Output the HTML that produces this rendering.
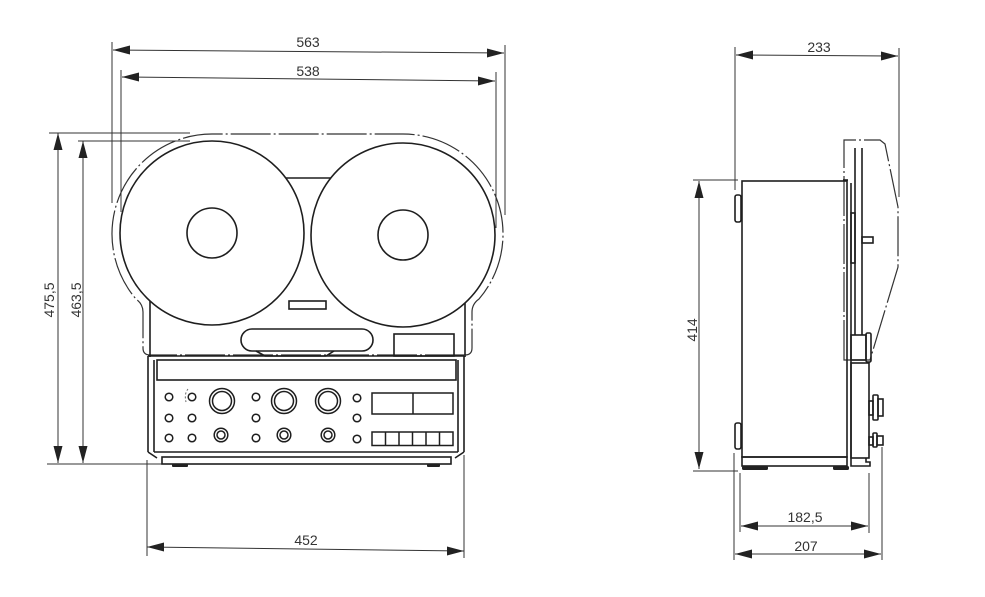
<!DOCTYPE html>
<html>
<head>
<meta charset="utf-8">
<style>
html,body{margin:0;padding:0;background:#fff;}
svg{display:block;}
text{font-family:"Liberation Sans",Arial,sans-serif;font-size:14px;fill:#333;}
</style>
</head>
<body>
<svg width="985" height="597" viewBox="0 0 985 597" xmlns="http://www.w3.org/2000/svg">
<rect width="985" height="597" fill="#fff"/>

<!-- ================= DIMENSIONS (front) ================= -->
<g stroke="#333" stroke-width="1" fill="none">
  <line x1="113" y1="50" x2="504" y2="53"/>
  <line x1="112" y1="42" x2="112" y2="203"/>
  <line x1="505" y1="45" x2="505" y2="215"/>
  <line x1="122" y1="77" x2="495" y2="81"/>
  <line x1="121" y1="70" x2="121" y2="212"/>
  <line x1="496" y1="72" x2="496" y2="228"/>
  <line x1="58" y1="133" x2="58" y2="463"/>
  <line x1="49" y1="133" x2="190" y2="133"/>
  <line x1="47" y1="464" x2="170" y2="464"/>
  <line x1="83" y1="141" x2="83" y2="463"/>
  <line x1="78" y1="141" x2="190" y2="141"/>
  <line x1="147" y1="547" x2="464" y2="551"/>
  <line x1="147" y1="460" x2="147" y2="556"/>
  <line x1="464" y1="455" x2="464" y2="558"/>
</g>
<g fill="#222" stroke="none">
  <polygon points="113,50 130,45.5 130,54.5"/>
  <polygon points="504,53 487,48.5 487,57.5"/>
  <polygon points="122,77 139,72.5 139,81.5"/>
  <polygon points="495,81 478,76.5 478,85.5"/>
  <polygon points="58,133 53.5,150 62.5,150"/>
  <polygon points="58,463 53.5,446 62.5,446"/>
  <polygon points="83,141 78.5,158 87.5,158"/>
  <polygon points="83,463 78.5,446 87.5,446"/>
  <polygon points="147,547 164,542.5 164,551.5"/>
  <polygon points="464,551 447,546.5 447,555.5"/>
</g>
<text x="308" y="47" text-anchor="middle">563</text>
<text x="308" y="76" text-anchor="middle">538</text>
<text x="306" y="545" text-anchor="middle">452</text>
<text transform="translate(54,300) rotate(-90)" text-anchor="middle">475,5</text>
<text transform="translate(81,300) rotate(-90)" text-anchor="middle">463,5</text>

<!-- ================= FRONT VIEW ================= -->
<path d="M465,355 L150,355 Q143,355 143,348 L143,312 Q143,304 136,299 A100,100 0 0 1 212,134 L403,134 A100,100 0 0 1 479,299 Q472,304 472,312 L472,348 Q472,355 465,355 Z"
      fill="none" stroke="#333" stroke-width="1.2" stroke-dasharray="40 3 2 3"/>

<g stroke="#1e1e1e" stroke-width="1.6" fill="none">
  <circle cx="212" cy="233" r="92"/>
  <circle cx="212" cy="233" r="25"/>
  <circle cx="403" cy="235" r="92"/>
  <circle cx="403" cy="235" r="25"/>
  <line x1="286" y1="178" x2="331" y2="178"/>
  <line x1="150" y1="301" x2="150" y2="357"/>
  <line x1="465" y1="303" x2="465" y2="357"/>
  <rect x="289" y="301" width="37" height="8"/>
  <rect x="241" y="329" width="132" height="22" rx="11"/>
  <path d="M256,351 L265,356 L326,356 L334,351"/>
  <rect x="394" y="334" width="60" height="22"/>

  <line x1="148" y1="356" x2="464" y2="356"/>
  <rect x="157" y="360" width="299" height="20"/>
  <line x1="148" y1="356" x2="148" y2="452"/>
  <line x1="464" y1="356" x2="464" y2="452"/>
  <line x1="154" y1="360" x2="154" y2="452"/>
  <line x1="458" y1="360" x2="458" y2="452"/>
  <line x1="154" y1="452" x2="458" y2="452"/>
  <line x1="148" y1="452" x2="157" y2="458"/>
  <line x1="464" y1="452" x2="455" y2="458"/>
  <rect x="162" y="457" width="289" height="7"/>
</g>
<g fill="#222">
  <rect x="172" y="464" width="16" height="3" rx="1"/>
  <rect x="427" y="464" width="13" height="3" rx="1"/>
</g>

<g stroke="#1e1e1e" stroke-width="1.5" fill="none">
  <circle cx="169" cy="397" r="3.8"/><circle cx="192" cy="397" r="3.8"/>
  <circle cx="256" cy="397" r="3.8"/><circle cx="357" cy="398" r="3.8"/>
  <circle cx="169" cy="418" r="3.8"/><circle cx="192" cy="418" r="3.8"/>
  <circle cx="256" cy="418" r="3.8"/><circle cx="357" cy="418" r="3.8"/>
  <circle cx="169" cy="438" r="3.8"/><circle cx="192" cy="438" r="3.8"/>
  <circle cx="256" cy="438" r="3.8"/><circle cx="357" cy="439" r="3.8"/>
  <circle cx="222" cy="401" r="12.5"/><circle cx="222" cy="401" r="9.5"/>
  <circle cx="284" cy="401" r="12.5"/><circle cx="284" cy="401" r="9.5"/>
  <circle cx="328" cy="401" r="12.5"/><circle cx="328" cy="401" r="9.5"/>
  <circle cx="221" cy="435" r="6.8"/><circle cx="221" cy="435" r="4"/>
  <circle cx="284" cy="435" r="6.8"/><circle cx="284" cy="435" r="4"/>
  <circle cx="328" cy="435" r="6.8"/><circle cx="328" cy="435" r="4"/>
  <rect x="372" y="393" width="81" height="21"/>
  <line x1="413" y1="393" x2="413" y2="414"/>
  <rect x="372" y="432" width="81" height="13.5"/>
  <line x1="385.5" y1="432" x2="385.5" y2="445.5"/>
  <line x1="399" y1="432" x2="399" y2="445.5"/>
  <line x1="412.5" y1="432" x2="412.5" y2="445.5"/>
  <line x1="426" y1="432" x2="426" y2="445.5"/>
  <line x1="439.5" y1="432" x2="439.5" y2="445.5"/>
</g>
<path d="M188,389 Q184,394 186,402" stroke="#666" stroke-width="1" fill="none" stroke-dasharray="2 2"/>

<!-- ================= DIMENSIONS (side) ================= -->
<g stroke="#333" stroke-width="1" fill="none">
  <line x1="736" y1="55" x2="898" y2="56"/>
  <line x1="735" y1="47" x2="735" y2="190"/>
  <line x1="899" y1="48" x2="899" y2="197"/>
  <line x1="699" y1="181" x2="699" y2="469"/>
  <line x1="693" y1="180" x2="738" y2="180"/>
  <line x1="693" y1="471" x2="738" y2="471"/>
  <line x1="741" y1="526" x2="868" y2="526"/>
  <line x1="740" y1="473" x2="740" y2="532"/>
  <line x1="869" y1="473" x2="869" y2="533"/>
  <line x1="735" y1="554" x2="881" y2="554"/>
  <line x1="734" y1="453" x2="734" y2="560"/>
  <line x1="882" y1="447" x2="882" y2="560"/>
</g>
<g fill="#222">
  <polygon points="736,55 753,50.5 753,59.5"/>
  <polygon points="898,56 881,51.5 881,60.5"/>
  <polygon points="699,181 694.5,198 703.5,198"/>
  <polygon points="699,469 694.5,452 703.5,452"/>
  <polygon points="741,526 758,521.5 758,530.5"/>
  <polygon points="868,526 851,521.5 851,530.5"/>
  <polygon points="735,554 752,549.5 752,558.5"/>
  <polygon points="881,554 864,549.5 864,558.5"/>
</g>
<text x="819" y="52" text-anchor="middle">233</text>
<text x="805" y="522" text-anchor="middle">182,5</text>
<text x="806" y="551" text-anchor="middle">207</text>
<text transform="translate(697,330) rotate(-90)" text-anchor="middle">414</text>

<!-- ================= SIDE VIEW ================= -->
<path d="M844,360 L844,140 L880,140 L885,144 L898,207 L898,267 L870,360 Z"
      fill="none" stroke="#333" stroke-width="1.2" stroke-dasharray="40 3 2 3"/>
<g stroke="#1e1e1e" stroke-width="1.6" fill="none">
  <rect x="742" y="181" width="105" height="276"/>
  <line x1="851" y1="183" x2="851" y2="458"/>
  <line x1="843" y1="180" x2="848" y2="180"/>
  <line x1="855" y1="148" x2="855" y2="335"/>
  <line x1="862" y1="148" x2="862" y2="335"/>
  <rect x="851" y="213" width="4" height="50"/>
  <rect x="862" y="237" width="11" height="6"/>
  <rect x="851" y="335" width="15" height="25"/>
  <rect x="866" y="333" width="5" height="29" rx="1.5"/>
  <rect x="851" y="363" width="18" height="95"/>
  <path d="M851,458 L851,466 L870,466 L870,462 L866,462 L866,458"/>
  <rect x="869" y="401" width="4" height="14"/>
  <rect x="873" y="395" width="5" height="25" rx="1"/>
  <rect x="878" y="399" width="5" height="17"/>
  <rect x="869" y="437" width="4" height="8"/>
  <rect x="873" y="433" width="4" height="14" rx="1"/>
  <rect x="877" y="436" width="6" height="9"/>
  <rect x="735" y="195" width="6" height="27" rx="2"/>
  <rect x="735" y="423" width="6" height="26" rx="2"/>
  <rect x="742" y="457" width="105" height="9"/>
</g>
<g fill="#222">
  <rect x="742" y="466" width="26" height="4" rx="1.5"/>
  <rect x="833" y="466" width="16" height="4" rx="1.5"/>
</g>
</svg>
</body>
</html>
